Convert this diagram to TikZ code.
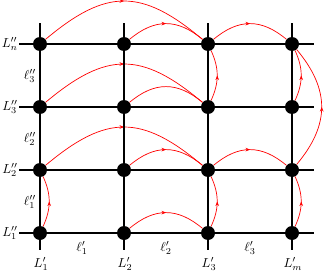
\documentclass[tikz,border=0pt]{standalone}
\usepackage{graphicx}
\usetikzlibrary{arrows.meta,decorations.markings,backgrounds}
\newcommand{\bigtxt}[1]{\scalebox{1.3}{#1}}
\begin{document}
\begin{tikzpicture}[x=1pt,y=-1pt,
  dot/.style={circle,fill=black,minimum size=14pt,inner sep=0pt},
  gridline/.style={line width=1.8pt},
  arc/.style={red,line width=0.7pt},
  flow/.style={arc,postaction={decorate},
    decoration={markings,mark=at position 0.5 with {\arrow{Stealth[length=4.5pt,width=3.6pt]}}}},
  bigh/.style={out=40,in=140,looseness=1.3},
  smallh/.style={out=40,in=140,looseness=1.15},
  smallv/.style={out=65,in=-65,looseness=1},
  bigv/.style={out=50,in=-50,looseness=1.16}]
\useasboundingbox (0,0) rectangle (324,273);
% grid line ends
\foreach \i/\x in {1/40,2/124,3/208,4/292}{
  \coordinate (t\i) at (\x,23);
  \coordinate (b\i) at (\x,250);
  \draw[gridline] (t\i) -- (b\i);
}
\foreach \j/\y in {1/233,2/170,3/107,4/44}{
  \coordinate (l\j) at (19,\y);
  \coordinate (r\j) at (314,\y);
  \draw[gridline] (l\j) -- (r\j);
}
% nodes
\foreach \i/\x in {1/40,2/124,3/208,4/292}{
  \foreach \j/\y in {1/233,2/170,3/107,4/44}{
    \node[dot] (n\i\j) at (\x,\y) {};
  }
}
% labels
\node[anchor=east,inner sep=1pt] (lab4) at (l4) {\bigtxt{$L''_n$}};
\node[anchor=east,inner sep=1pt] (lab3) at (l3) {\bigtxt{$L''_3$}};
\node[anchor=east,inner sep=1pt] (lab2) at (l2) {\bigtxt{$L''_2$}};
\node[anchor=east,inner sep=1pt] (lab1) at (l1) {\bigtxt{$L''_1$}};
\node (h3) at (30,76) {\bigtxt{$\ell''_3$}};
\node (h2) at (30,139) {\bigtxt{$\ell''_2$}};
\node (h1) at (30,202) {\bigtxt{$\ell''_1$}};
\node (v1) at (41,264) {\bigtxt{$L'_1$}};
\node (v2) at (125,264) {\bigtxt{$L'_2$}};
\node (v3) at (209,264) {\bigtxt{$L'_3$}};
\node (v4) at (293,264) {\bigtxt{$L'_m$}};
\node (w1) at (82,248) {\bigtxt{$\ell'_1$}};
\node (w2) at (166,248) {\bigtxt{$\ell'_2$}};
\node (w3) at (250,248) {\bigtxt{$\ell'_3$}};
% red arcs
\begin{scope}[on background layer]
\draw[flow] (n14) to[bigh] (n34);
\draw[flow] (n24) to[smallh] (n34);
\draw[flow] (n34) to[smallh] (n44);
\draw[flow] (n13) to[bigh] (n33);
\draw[arc]  (n23) to[smallh] (n33);
\draw[flow] (n12) to[bigh] (n32);
\draw[flow] (n22) to[smallh] (n32);
\draw[flow] (n32) to[smallh] (n42);
\draw[flow] (n21) to[smallh] (n31);
\draw[flow] (n11) to[smallv] (n12);
\draw[flow] (n31) to[smallv] (n32);
\draw[flow] (n41) to[smallv] (n42);
\draw[flow] (n33) to[smallv] (n34);
\draw[flow] (n43) to[smallv] (n44);
\draw[flow] (n42) to[bigv] (n44);
\end{scope}
\end{tikzpicture}
\end{document}
